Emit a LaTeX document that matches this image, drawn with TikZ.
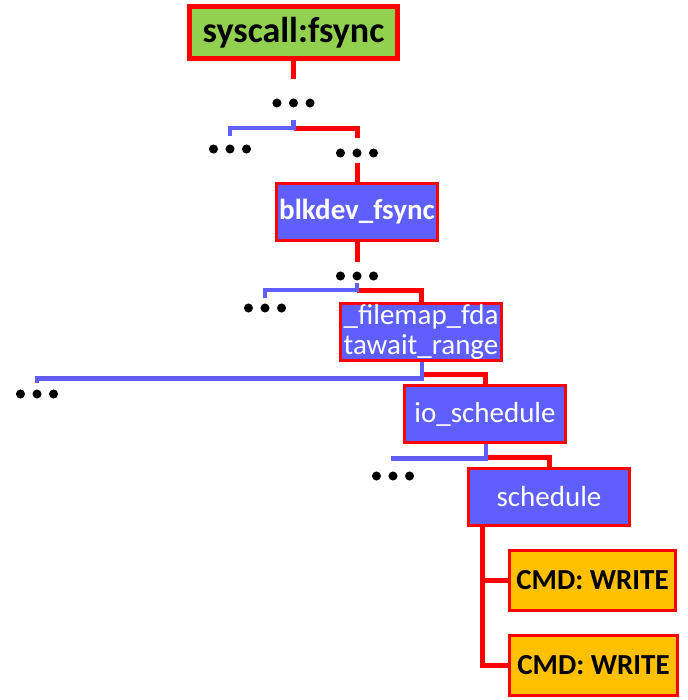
\documentclass[tikz,border=0pt]{standalone}
\usepackage{fontspec}
\setmainfont{Carlito}
\usetikzlibrary{calc}
\definecolor{callred}{RGB}{255,0,0}
\definecolor{callblue}{RGB}{95,95,255}
\definecolor{entrygreen}{RGB}{146,208,80}
\definecolor{cmdamber}{RGB}{255,192,0}
\pgfdeclarelayer{wires}
\pgfsetlayers{wires,main}

\begin{document}
\begin{tikzpicture}[x=0.75pt,y=-0.75pt,
  entrybox/.style={draw=callred, line width=3.75pt, fill=entrygreen, text=black,
    inner sep=0pt, minimum width=156pt, minimum height=39pt,
    font=\fontsize{27}{30}\selectfont\bfseries},
  fnbox/.style={draw=callred, line width=2.25pt, fill=callblue, text=white,
    inner sep=0pt, minimum width=120.75pt, minimum height=42.75pt,
    font=\fontsize{21.75}{22.5}\selectfont, align=center},
  cmdbox/.style={draw=callred, line width=2pt, fill=cmdamber, text=black,
    inner sep=0pt, minimum width=124.5pt, minimum height=45pt,
    font=\fontsize{21.75}{22.5}\selectfont\bfseries},
  ellipsis/.style={minimum width=34pt, minimum height=7.5pt, inner sep=0pt,
    path picture={\foreach \dx in {-12.4,0,12.4}{
      \fill ([xshift=\dx pt]path picture bounding box.center) circle[radius=3.4pt];}}},
  calls/.style={draw=callred, line width=3.75pt},
  skips/.style={draw=callblue, line width=3.4pt}
]
\useasboundingbox (0,0) rectangle (688,700);

% call chain boxes
\node[entrybox] (sys) at (293.5,32.5) {syscall:fsync};
\node[fnbox, font=\fontsize{21.75}{22.5}\selectfont\bfseries] (blk) at (357,212) {blkdev\_fsync};
\node[fnbox] (fm) at (421,332) {\_filemap\_fda\\tawait\_range};
\node[fnbox] (io) at (485,414) {io\_schedule};
\node[fnbox] (sch) at (549,497) {schedule};
\node[cmdbox] (w1) at (592.5,580.5) {CMD: WRITE};
\node[cmdbox, minimum width=126pt] (w2) at (593.5,665.5) {CMD: WRITE};

% elided calls
\node[ellipsis] (d1) at (293.5,103) {};
\node[ellipsis] (d2) at (230,149) {};
\node[ellipsis] (d3) at (357,153) {};
\node[ellipsis] (d4) at (357,276) {};
\node[ellipsis] (d5) at (265,308) {};
\node[ellipsis] (d6) at (37,394) {};
\node[ellipsis] (d7) at (393,476) {};

% fork points
\coordinate (j1) at (293.5,128);
\coordinate (j2) at (357,290);
\coordinate (j3r) at ($(fm.south)+(1,12.5)$);
\coordinate (j3) at ($(fm.south)+(1,16.5)$);
\coordinate (j4r) at ($(io.south)+(1,13.5)$);
\coordinate (j4) at ($(io.south)+(1,14.5)$);
\coordinate (trunk) at ($(sch.south west)+(15.5,0)$);

\begin{pgfonlayer}{wires}
  \draw[calls] (sys.south) -- ($(d1.north)+(0,-19)$);
  \draw[calls] (j1) -| ($(d3.north)+(0,-10)$);
  \draw[skips] ($(d1.south)+(0,12)$) -- (j1) -| ($(d2.north)+(0,-8)$);
  \draw[calls] ($(d3.south)+(0,5)$) -- (blk.north);
  \draw[calls] (blk.south) -- ($(d4.north)+(0,-9)$);
  \draw[calls] (j2) -| (fm.north);
  \draw[skips] ($(d4.south)+(0,1.5)$) -- (j2) -| ($(d5.north)+(0,-5)$);
  \draw[calls] (j3r) -| (io.north);
  \draw[skips] ($(fm.south)+(1,0)$) -- (j3) -| ($(d6.north)+(0,-6)$);
  \draw[calls] (j4r) -| (sch.north);
  \draw[skips] ($(io.south)+(1,0)$) -- (j4) -| ($(d7.north)+(0,-9.3)$);
  \draw[calls] (trunk) |- (w2.west);
  \draw[calls] (trunk) |- (w1.west);
\end{pgfonlayer}
\end{tikzpicture}
\end{document}
